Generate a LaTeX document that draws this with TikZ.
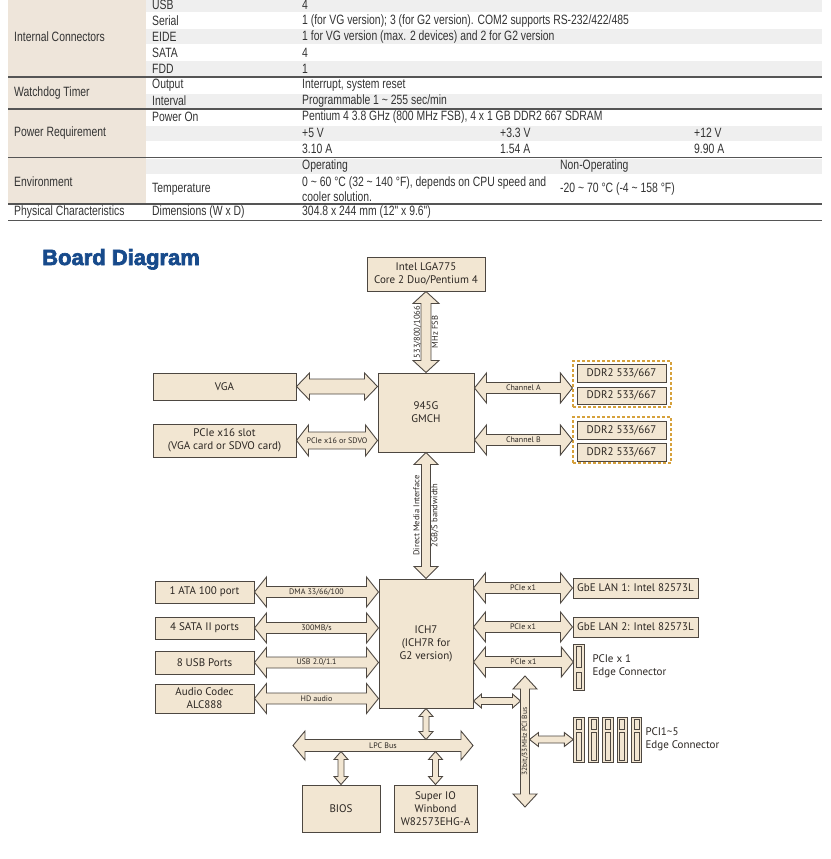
\documentclass[tikz,border=0pt]{standalone}
\usepackage{fontspec}
\setmainfont{PT Sans}
\newfontfamily\tabfont[FakeStretch=0.77]{Liberation Sans}
\newfontfamily\headfont[BoldFeatures={FakeBold=3}]{Liberation Sans}
\usepackage{xcolor}
\usetikzlibrary{calc,positioning}

\definecolor{boxfill}{HTML}{F2E6D2}
\definecolor{boxline}{HTML}{4D4741}
\definecolor{boxtext}{HTML}{2B2622}
\definecolor{dimmline}{HTML}{D6A13C}
\definecolor{tabbeige}{HTML}{EEE5DA}
\definecolor{tabgray}{HTML}{EFEFEF}
\definecolor{tabtext}{HTML}{333333}
\definecolor{tabrule}{HTML}{555555}
\definecolor{titleblue}{HTML}{174A8B}

\newcommand\bushl{12pt}
\newcommand\bushw{15pt}
\newcommand\bussw{6pt}

\tikzset{
  box/.style={draw=boxline, fill=boxfill, line width=1pt, inner sep=1pt, align=center,
    font=\fontsize{11}{13}\selectfont, text=boxtext},
  dimm/.style={draw=dimmline, line width=1.2pt, dash pattern=on 3pt off 2pt, inner sep=0pt},
  slot/.style={draw=boxline, fill=boxfill, line width=0.9pt, minimum width=10.5pt, inner sep=0pt},
  slotin/.style={draw=boxline, line width=0.8pt},
  lbl/.style={font=\fontsize{8}{9.5}\selectfont, text=boxtext, inner sep=0pt},
  vlbl/.style={lbl, font=\fontsize{8.5}{18}\selectfont, rotate=90, align=center},
  tab/.style={font=\tabfont\fontsize{13.5}{15}\selectfont, text=tabtext, anchor=west, inner sep=0pt},
  bus/.style={draw=boxline, fill=boxfill, line width=0.9pt},
  bussize/.style args={#1/#2/#3}{/utils/exec={\def\bushl{#1}\def\bushw{#2}\def\bussw{#3}}},
  hbus/.style={bus, to path={let \p1=(\tikztostart), \p2=(\tikztotarget) in
      (\x1,\y1) -- (\x1+\bushl,\y1+\bushw) -- (\x1+\bushl,\y1+\bussw) -- (\x2-\bushl,\y1+\bussw)
      -- (\x2-\bushl,\y1+\bushw) -- (\x2,\y1) -- (\x2-\bushl,\y1-\bushw) -- (\x2-\bushl,\y1-\bussw)
      -- (\x1+\bushl,\y1-\bussw) -- (\x1+\bushl,\y1-\bushw) -- cycle}},
  vbus/.style={bus, to path={let \p1=(\tikztostart), \p2=(\tikztotarget) in
      (\x1,\y1) -- (\x1+\bushw,\y1-\bushl) -- (\x1+\bussw,\y1-\bushl) -- (\x1+\bussw,\y2+\bushl)
      -- (\x1+\bushw,\y2+\bushl) -- (\x1,\y2) -- (\x1-\bushw,\y2+\bushl) -- (\x1-\bussw,\y2+\bushl)
      -- (\x1-\bussw,\y1-\bushl) -- (\x1-\bushw,\y1-\bushl) -- cycle}},
}

\begin{document}
\begin{tikzpicture}[x=1pt, y=-1pt]
            \useasboundingbox (0,0) rectangle (830,859);

            % Specification table
            \fill[tabbeige] (8,0) rectangle (146,204);
            \foreach \c in {5,37,69,101,133,166}
              \fill[tabgray] (146,\c-7.5) rectangle (822,\c+7.5);
            \foreach \r in {77,109,157.5,204,220.5}
              \draw[tabrule, line width=1.2pt] (8,\r) -- (822,\r);

            \node[tab] (ic) at (14,37) {Internal Connectors};
            \node[tab] (usbk) at (152,5) {USB};
            \node[tab] (usbv) at (302,5) {4};
            \node[tab] (serk) at (152,21) {Serial};
            \node[tab] (serv) at (302,21) {1 (for VG version); 3 (for G2 version). COM2 supports RS-232/422/485};
            \node[tab] (eidek) at (152,37) {EIDE};
            \node[tab] (eidev) at (302,37) {1 for VG version (max. 2 devices) and 2 for G2 version};
            \node[tab] (satak) at (152,53) {SATA};
            \node[tab] (satav) at (302,53) {4};
            \node[tab] (fddk) at (152,69) {FDD};
            \node[tab] (fddv) at (302,69) {1};

            \node[tab] (wdt) at (14,93) {Watchdog Timer};
            \node[tab] (outk) at (152,85) {Output};
            \node[tab] (outv) at (302,85) {Interrupt, system reset};
            \node[tab] (intk) at (152,101) {Interval};
            \node[tab] (intv) at (302,101) {Programmable 1 \textasciitilde{} 255 sec/min};

            \node[tab] (pwr) at (14,133) {Power Requirement};
            \node[tab] (ponk) at (152,117) {Power On};
            \node[tab] (ponv) at (302,117) {Pentium 4 3.8 GHz (800 MHz FSB), 4 x 1 GB DDR2 667 SDRAM};
            \node[tab] (v5) at (302,133) {+5 V};
            \node[tab] (v33) at (500,133) {+3.3 V};
            \node[tab] (v12) at (694,133) {+12 V};
            \node[tab] (a5) at (302,149) {3.10 A};
            \node[tab] (a33) at (500,149) {1.54 A};
            \node[tab] (a12) at (694,149) {9.90 A};

            \node[tab] (env) at (14,182) {Environment};
            \node[tab] (opk) at (302,166) {Operating};
            \node[tab] (nopk) at (560,166) {Non-Operating};
            \node[tab] (tmpk) at (152,189.5) {Temperature};
            \node[tab, align=left] (opv) at (302,189.5) {0 \textasciitilde{} 60 °C (32 \textasciitilde{} 140 °F), depends on CPU speed and\\cooler solution.};
            \node[tab] (nopv) at (560,189.5) {-20 \textasciitilde{} 70 °C (-4 \textasciitilde{} 158 °F)};

            \node[tab] (phy) at (14,212) {Physical Characteristics};
            \node[tab] (dimk) at (152,212) {Dimensions (W x D)};
            \node[tab] (dimv) at (302,212) {304.8 x 244 mm (12" x 9.6")};

            % Title
            \node[anchor=base west, inner sep=0pt, text=titleblue,
                  font=\headfont\bfseries\fontsize{22}{24}\selectfont] (title) at (42,265) {Board Diagram};

            % North bridge side
            \node[box, minimum width=118pt, minimum height=34pt] (cpu) at (426,274) {Intel LGA775\\Core 2 Duo/Pentium 4};
            \node[box, minimum width=96pt, minimum height=79pt] (gmch) at (426,412.5) {945G\\GMCH};
            \node[box, minimum width=143pt, minimum height=27pt] (vga) at (224.5,386.5) {VGA};
            \node[box, minimum width=143pt, minimum height=33pt] (pcie) at (224.5,440.5) {PCIe x16 slot\\(VGA card or SDVO card)};

            \node[dimm, minimum width=98pt, minimum height=46pt] (chna) at (622,384) {};
            \node[box, minimum width=89pt, minimum height=18pt] (ddra1) at (621.5,373) {DDR2 533/667};
            \node[box, minimum width=89pt, minimum height=17pt] (ddra2) at (621.5,395.5) {DDR2 533/667};
            \node[dimm, minimum width=98pt, minimum height=46pt] (chnb) at (622,440) {};
            \node[box, minimum width=89pt, minimum height=18pt] (ddrb1) at (621.5,430) {DDR2 533/667};
            \node[box, minimum width=89pt, minimum height=18pt] (ddrb2) at (621.5,452) {DDR2 533/667};

            % South bridge side
            \node[box, minimum width=94pt, minimum height=129pt] (ich) at (426,643.5) {ICH7\\(ICH7R for\\G2 version)};
            \node[box, minimum width=99pt, minimum height=22pt] (ata) at (204.5,592) {1 ATA 100 port};
            \node[box, minimum width=99pt, minimum height=22pt] (sata) at (204.5,628) {4 SATA II ports};
            \node[box, minimum width=99pt, minimum height=23pt] (usb) at (204.5,662.5) {8 USB Ports};
            \node[box, minimum width=99pt, minimum height=29pt] (audio) at (204.5,698.5) {Audio Codec\\ALC888};
            \node[box, minimum width=125pt, minimum height=20pt] (lan1) at (635.5,588) {GbE LAN 1: Intel 82573L};
            \node[box, minimum width=125pt, minimum height=20pt] (lan2) at (635.5,627) {GbE LAN 2: Intel 82573L};
            \node[box, minimum width=78pt, minimum height=47pt] (bios) at (341,808.5) {BIOS};
            \node[box, minimum width=83pt, minimum height=47pt] (sio) at (435.5,808.5) {Super IO\\Winbond\\W82573EHG-A};

            % Edge connectors
            \node[slot, minimum height=46pt] (x1slot) at (579,667) {};
            \draw[slotin] ([xshift=-2.5pt,yshift=-3pt]x1slot.north) rectangle ([xshift=2.5pt,yshift=-24pt]x1slot.north);
            \draw[slotin] ([xshift=-2.5pt,yshift=-29pt]x1slot.north) rectangle ([xshift=2.5pt,yshift=2.5pt]x1slot.south);
            \node[anchor=west, align=left, font=\fontsize{11}{13}\selectfont, text=boxtext] (x1txt) at (589,666.5) {PCIe x 1\\Edge Connector};

            \foreach \i in {1,...,5} {
              \node[slot, minimum height=45pt] (pci\i) at (564.6+14.4*\i,739.5) {};
              \draw[slotin] ([xshift=-2.5pt,yshift=-2.5pt]pci\i.north) rectangle ([xshift=2.5pt,yshift=-13pt]pci\i.north);
              \draw[slotin] ([xshift=-2.5pt,yshift=-16pt]pci\i.north) rectangle ([xshift=2.5pt,yshift=2.5pt]pci\i.south);
            }
            \node[anchor=west, align=left, font=\fontsize{11}{13}\selectfont, text=boxtext] (pcitxt) at (642,739.5) {PCI1\textasciitilde5\\Edge Connector};

            % Bus end points
            \coordinate (pcitop) at (525,676);
            \coordinate (pcibot) at (525,807);
            \coordinate (pcil) at (520.5,701);
            \coordinate (pcir) at (529.5,739.5);
            \coordinate (lpcl) at (293,745.5);
            \coordinate (lpcr) at (473,745.5);
            \coordinate (lpctop) at (426,739.5);
            \coordinate (biosbus) at (341,751.5);
            \coordinate (siobus) at (435.5,751.5);

            % Buses
            \draw[vbus, bussize={12pt/13pt/5pt}] (cpu.south) to (gmch.north);
            \path (cpu.south) -- (gmch.north) node[midway, vlbl] (fsb) {533/800/1066\\MHz FSB};
            \draw[vbus, bussize={12pt/12pt/4.5pt}] (gmch.south) to (ich.north);
            \path (gmch.south) -- (ich.north) node[midway, vlbl] (dmi) {Direct Media Interface\\2GB/S bandwidth};

            \draw[hbus, bussize={13pt/13.5pt/7.5pt}] (vga.east) to (vga.east -| gmch.west);
            \draw[hbus, bussize={12pt/15.5pt/8.5pt}] (pcie.east) to (pcie.east -| gmch.west);
            \path (pcie.east) -- (pcie.east -| gmch.west) node[midway, lbl] (sdvo) {PCIe x16 or SDVO};
            \draw[hbus, bussize={12pt/15pt/5.5pt}] ([yshift=-4pt]gmch.east |- chna.west) to ([yshift=-4pt]chna.west);
            \path ([yshift=-4pt]gmch.east |- chna.west) -- ([yshift=-4pt]chna.west) node[midway, lbl] (cha) {Channel A};
            \draw[hbus, bussize={12pt/15pt/5.5pt}] (gmch.east |- chnb.west) to (chnb.west);
            \path (gmch.east |- chnb.west) -- (chnb.west) node[midway, lbl] (chb) {Channel B};

            \draw[hbus, bussize={12pt/15pt/5.5pt}] (ata.east) to (ata.east -| ich.west);
            \path (ata.east) -- (ata.east -| ich.west) node[midway, lbl] (dma) {DMA 33/66/100};
            \draw[hbus, bussize={12pt/15pt/5.5pt}] (sata.east) to (sata.east -| ich.west);
            \path (sata.east) -- (sata.east -| ich.west) node[midway, lbl] (mbs) {300MB/s};
            \draw[hbus, bussize={12pt/15pt/5.5pt}] (usb.east) to (usb.east -| ich.west);
            \path (usb.east) -- (usb.east -| ich.west) node[midway, lbl] (usbl) {USB 2.0/1.1};
            \draw[hbus, bussize={12pt/15pt/5.5pt}] (audio.east) to (audio.east -| ich.west);
            \path (audio.east) -- (audio.east -| ich.west) node[midway, lbl] (hda) {HD audio};

            \draw[hbus, bussize={12pt/15pt/5.5pt}] (ich.east |- lan1.west) to (lan1.west);
            \path (ich.east |- lan1.west) -- (lan1.west) node[midway, lbl] (px1) {PCIe x1};
            \draw[hbus, bussize={12pt/15pt/5.5pt}] (ich.east |- lan2.west) to (lan2.west);
            \path (ich.east |- lan2.west) -- (lan2.west) node[midway, lbl] (px2) {PCIe x1};
            \draw[hbus, bussize={12pt/15pt/5.5pt}] ([yshift=5pt]ich.east |- x1slot.west) to ([yshift=5pt]x1slot.west);
            \path ([yshift=5pt]ich.east |- x1slot.west) -- ([yshift=5pt]x1slot.west) node[midway, lbl] (px3) {PCIe x1};

            \draw[vbus, bussize={13pt/12pt/4.5pt}] (pcitop) to (pcibot);
            \path (pcitop) -- (pcibot) node[midway, vlbl, font=\fontsize{7.5}{9}\selectfont] (pcib) {32bit/33MHz PCI Bus};
            \draw[hbus, bussize={8pt/7pt/3.5pt}] (ich.east |- pcil) to (pcil);
            \draw[hbus, bussize={9pt/7pt/3.5pt}] (pcir) to (pcir -| pci1.west);

            \draw[hbus, bussize={12pt/14.5pt/6pt}] (lpcl) to (lpcr);
            \path (lpcl) -- (lpcr) node[midway, lbl] (lpc) {LPC Bus};
            \draw[vbus, bussize={8pt/7pt/3pt}] (ich.south) to (lpctop);
            \draw[vbus, bussize={8pt/7pt/3pt}] (biosbus) to (bios.north);
            \draw[vbus, bussize={8pt/7pt/3pt}] (siobus) to (sio.north);
        \end{tikzpicture}
\end{document}
